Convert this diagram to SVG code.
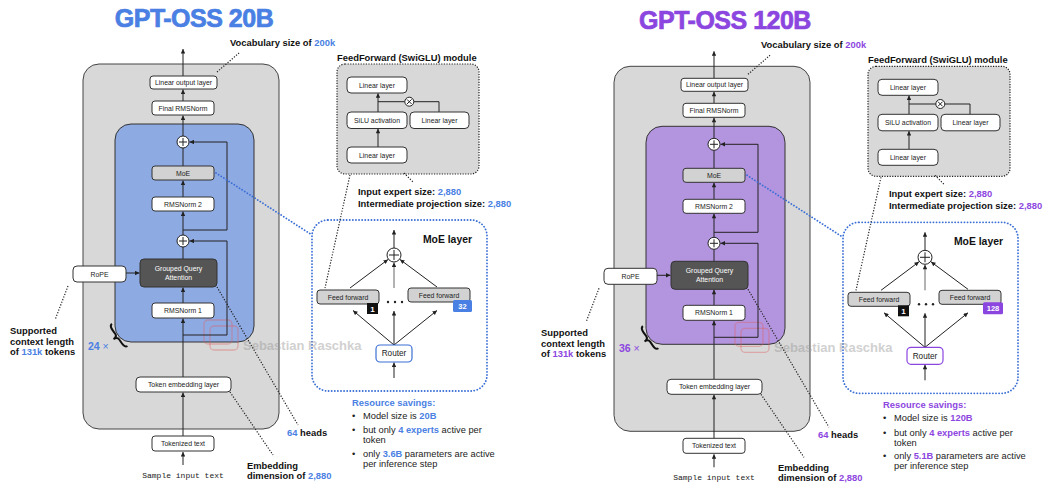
<svg xmlns="http://www.w3.org/2000/svg" width="1057" height="489" viewBox="0 0 1057 489">
<style>
text{font-family:"Liberation Sans",Arial,Helvetica,sans-serif}
.bg{fill:#fff}
.outer{fill:#d8d8d8;stroke:#444;stroke-width:1}
.blk-b{fill:#8eaae3;stroke:#333;stroke-width:1}
.blk-p{fill:#b394de;stroke:#333;stroke-width:1}
.box{fill:#fff;stroke:#333;stroke-width:1}
.gbox{fill:#d2d2d2;stroke:#333;stroke-width:1}
.dark{fill:#555;stroke:#333;stroke-width:1}
.ffmod{fill:#d8d8d8;stroke:#222;stroke-width:1.2;stroke-dasharray:1.2 1.4}
.moebox{fill:none;stroke:#3b6fd6;stroke-width:1.8;stroke-dasharray:0.1 3;stroke-linecap:round}
.lbl{font-size:6.9px;text-anchor:middle;fill:#222}
.wl{font-size:6.9px;text-anchor:middle;fill:#fff}
.ann{font-size:9.4px;font-weight:bold;fill:#111}
.reg{font-size:9.3px;fill:#222}
.ab{fill:#4a7fe3}
.ap{fill:#8c46e0}
.title{font-size:25px;font-weight:bold;letter-spacing:-0.5px;text-anchor:middle;stroke-width:0.7px}
.tb{fill:#4a7fe3;stroke:#4a7fe3}
.tp{fill:#8c46e0;stroke:#8c46e0}
.ln{stroke:#222;stroke-width:1;fill:none}
.gln{stroke:#666;stroke-width:1;fill:none}
.dot{stroke:#222;stroke-width:1.2;stroke-dasharray:1.2 1.6;fill:none}
.bdot{stroke:#3b6fd6;stroke-width:1.8;stroke-dasharray:0.1 3;stroke-linecap:round;fill:none}
.circ{fill:#fff;stroke:#222;stroke-width:1}
.wm{font-size:13px;font-weight:bold;fill:#999;opacity:0.45}
.logo{fill:none;stroke:#e06060;stroke-width:1.3;opacity:0.4}
.mono{font-family:"Liberation Mono","Courier New",monospace;font-size:8px;fill:#222;text-anchor:middle}
.brace{fill:none;stroke:#111;stroke-width:2}
</style>
<defs>
<marker id="ah" viewBox="0 0 10 10" refX="10" refY="5" markerWidth="5" markerHeight="4.5" markerUnits="userSpaceOnUse" orient="auto">
<path d="M0,0 L10,5 L0,10 z" fill="#222"/>
</marker>
</defs>
<rect class="bg" x="0" y="0" width="1057" height="489"/>

<!-- ================= LEFT PANEL: GPT-OSS 20B ================= -->
<g id="panel-20b">
<text x="194" y="27" class="title tb">GPT-OSS 20B</text>

<g id="l-outer"><rect class="outer" x="83" y="64" width="196" height="365" rx="16"/></g>
<g id="l-block"><rect class="blk-b" x="115" y="124" width="139" height="218" rx="16"/></g>
<g id="l-ffmodule"><rect class="ffmod" x="337" y="64" width="142" height="110" rx="8"/>
<text class="ann" x="337" y="60.5">FeedForward (SwiGLU) module</text></g>
<g id="l-moelayer"><rect class="moebox" x="312" y="220" width="175" height="171" rx="16"/>
<text x="472" y="243" text-anchor="end" font-size="10.4" font-weight="bold" fill="#111">MoE layer</text></g>

<g id="l-watermark">
<rect class="logo" x="204" y="320" width="28" height="24" rx="4"/>
<rect class="logo" x="210" y="326" width="28" height="24" rx="4"/>
<text class="wm" x="243" y="350">Sebastian Raschka</text>
</g>

<g id="l-connectors">
<line class="ln" x1="183" y1="76" x2="183" y2="49" marker-end="url(#ah)"/>
<line class="ln" x1="183" y1="101" x2="183" y2="89.5" marker-end="url(#ah)"/>
<line class="ln" x1="183" y1="136" x2="183" y2="115.5" marker-end="url(#ah)"/>
<line class="ln" x1="183" y1="166" x2="183" y2="148"/>
<line class="ln" x1="183" y1="197" x2="183" y2="180.5" marker-end="url(#ah)"/>
<line class="ln" x1="183" y1="235" x2="183" y2="211.5" marker-end="url(#ah)"/>
<line class="ln" x1="183" y1="259" x2="183" y2="247"/>
<line class="ln" x1="183" y1="303" x2="183" y2="287.5" marker-end="url(#ah)"/>
<line class="ln" x1="183" y1="377" x2="183" y2="318.5" marker-end="url(#ah)"/>
<line class="ln" x1="183" y1="436" x2="183" y2="392.5" marker-end="url(#ah)"/>
<line class="ln" x1="183" y1="465" x2="183" y2="452" marker-end="url(#ah)"/>
<polyline class="ln" points="183,230 227,230 227,142 189.5,142" marker-end="url(#ah)"/>
<polyline class="ln" points="183,335 227,335 227,241 189.5,241" marker-end="url(#ah)"/>
<line class="ln" x1="126" y1="273" x2="139.5" y2="273" marker-end="url(#ah)"/>
<line class="dot" x1="217" y1="72" x2="239" y2="53"/>
<line class="dot" x1="68" y1="286" x2="55" y2="320"/>
<line class="dot" x1="217" y1="287" x2="298" y2="425"/>
<line class="dot" x1="230" y1="392" x2="273" y2="455"/>
<line class="bdot" x1="216" y1="173" x2="312" y2="235"/>
<line class="dot" x1="350" y1="175" x2="325" y2="288"/>
<line class="dot" x1="404" y1="173" x2="413" y2="182"/>
<line class="ln" x1="378" y1="147" x2="378" y2="128.8" marker-end="url(#ah)"/>
<line class="ln" x1="378" y1="112" x2="378" y2="93.3" marker-end="url(#ah)"/>
<line class="ln" x1="378" y1="101.7" x2="404.8" y2="101.7"/>
<polyline class="ln" points="413.8,101.7 439,101.7 439,112"/>
<line class="ln" x1="394" y1="248" x2="394" y2="230" marker-end="url(#ah)"/>
<line class="ln" x1="350" y1="288" x2="388" y2="259.5" marker-end="url(#ah)"/>
<line class="ln" x1="437" y1="287" x2="400" y2="259.5" marker-end="url(#ah)"/>
<line class="gln" x1="394" y1="288" x2="394" y2="262.5" marker-end="url(#ah)"/>
<line class="ln" x1="394" y1="345" x2="353" y2="310.5" marker-end="url(#ah)"/>
<line class="ln" x1="394" y1="345" x2="394" y2="311" marker-end="url(#ah)"/>
<line class="ln" x1="394" y1="345" x2="437" y2="310.5" marker-end="url(#ah)"/>
<line class="ln" x1="394" y1="378" x2="394" y2="362.5" marker-end="url(#ah)"/>
</g>

<g id="l-linear-out"><rect class="box" x="150" y="76" width="67" height="13" rx="3"/><text class="lbl" x="183.5" y="85">Linear output layer</text></g>
<g id="l-final-norm"><rect class="box" x="152" y="101" width="62" height="14" rx="3"/><text class="lbl" x="183" y="110.5">Final RMSNorm</text></g>
<g id="l-add1"><circle class="circ" cx="183" cy="142" r="6"/><path class="ln" d="M179,142 H187 M183,138 V146"/></g>
<g id="l-moe"><rect class="gbox" x="152" y="166" width="62" height="14" rx="3"/><text class="lbl" x="183" y="175.5">MoE</text></g>
<g id="l-norm2"><rect class="box" x="152" y="197" width="62" height="14" rx="3"/><text class="lbl" x="183" y="206.5">RMSNorm 2</text></g>
<g id="l-add2"><circle class="circ" cx="183" cy="241" r="6"/><path class="ln" d="M179,241 H187 M183,237 V245"/></g>
<g id="l-gqa"><rect class="dark" x="140" y="259" width="77" height="28" rx="4"/><text class="wl" x="178.5" y="271">Grouped Query</text><text class="wl" x="178.5" y="280">Attention</text></g>
<g id="l-rope"><rect class="box" x="73" y="266" width="53" height="16" rx="4"/><text class="lbl" x="99.5" y="276.5">RoPE</text></g>
<g id="l-norm1"><rect class="box" x="152" y="303" width="62" height="15" rx="3"/><text class="lbl" x="183" y="312.8">RMSNorm 1</text></g>
<g id="l-embed"><rect class="box" x="136" y="377" width="95" height="15" rx="4"/><text class="lbl" x="183.5" y="387">Token embedding layer</text></g>
<g id="l-tok"><rect class="box" x="152" y="436" width="62" height="15" rx="3"/><text class="lbl" x="183" y="446">Tokenized text</text></g>
<g id="l-input"><text class="mono" x="183" y="478">Sample input text</text></g>

<g id="l-repeat">
<text x="88" y="350" font-size="10.5" class="ab"><tspan font-weight="bold">24</tspan> ×</text>
<path class="brace" transform="translate(116,337.5) rotate(-35)" d="M4.5,-13.5 C0.5,-13.5 1.5,-7 1.5,-3.5 C1.5,-1.2 0.5,0 -3,0 C0.5,0 1.5,1.2 1.5,3.5 C1.5,7 0.5,13.5 4.5,13.5"/>
</g>

<g id="l-ff-lin1"><rect class="box" x="347" y="77" width="60" height="16" rx="4"/><text class="lbl" x="377" y="87.5">Linear layer</text></g>
<g id="l-ff-silu"><rect class="box" x="347" y="112" width="60" height="16.5" rx="4"/><text class="lbl" x="377" y="122.7">SiLU activation</text></g>
<g id="l-ff-lin2"><rect class="box" x="410" y="112" width="59" height="16.5" rx="4"/><text class="lbl" x="439.5" y="122.7">Linear layer</text></g>
<g id="l-ff-lin3"><rect class="box" x="347" y="147" width="60" height="16" rx="4"/><text class="lbl" x="377" y="157.5">Linear layer</text></g>
<g id="l-ff-mul"><circle class="circ" cx="409.3" cy="101.7" r="4.5"/><path class="ln" d="M407,99.4 L411.6,104 M411.6,99.4 L407,104"/></g>

<g id="l-moe-add"><circle class="circ" cx="394" cy="255" r="7"/><path class="ln" stroke-width="1.3" d="M389,255 H399 M394,250 V260"/></g>
<g id="l-ff1"><rect class="gbox" x="317" y="290" width="62" height="14" rx="3"/><text class="lbl" x="348" y="299.5">Feed forward</text>
<rect x="367" y="303" width="11" height="11" fill="#111"/><text x="372.5" y="311.8" font-size="8" font-weight="bold" fill="#fff" text-anchor="middle">1</text></g>
<g id="l-ffn"><rect class="gbox" x="408" y="288" width="62" height="14" rx="3"/><text class="lbl" x="439" y="297.5">Feed forward</text>
<rect x="453" y="300" width="19" height="12" rx="1.5" class="ab"/><text x="462.5" y="308.8" font-size="7.5" font-weight="bold" fill="#fff" text-anchor="middle">32</text></g>
<g id="l-ellipsis"><circle cx="388" cy="302" r="1.2" fill="#222"/><circle cx="395" cy="302" r="1.2" fill="#222"/><circle cx="402" cy="302" r="1.2" fill="#222"/></g>
<g id="l-router"><rect x="376" y="345" width="36" height="17" rx="4" fill="#fff" stroke="#3b6fd6" stroke-width="1.2"/><text x="394" y="356.3" font-size="8.2" text-anchor="middle" fill="#222">Router</text></g>

<g id="l-annotations">
<text class="ann" x="230" y="46">Vocabulary size of <tspan class="ab">200k</tspan></text>
<text class="ann" x="10" y="334">Supported</text>
<text class="ann" x="10" y="344.5">context length</text>
<text class="ann" x="10" y="355">of <tspan class="ab">131k</tspan> tokens</text>
<text class="ann" x="287" y="436"><tspan class="ab">64</tspan> heads</text>
<text class="ann" x="247" y="468.5">Embedding</text>
<text class="ann" x="247" y="479">dimension of <tspan class="ab">2,880</tspan></text>
<text class="ann" x="358" y="195">Input expert size: <tspan class="ab">2,880</tspan></text>
<text class="ann" x="358" y="206.7">Intermediate projection size: <tspan class="ab">2,880</tspan></text>
<text class="ann ab" x="352" y="405.5">Resource savings:</text>
<text class="reg" x="352" y="419">•</text><text class="reg" x="363" y="419">Model size is <tspan class="ab" font-weight="bold">20B</tspan></text>
<text class="reg" x="352" y="433.3">•</text><text class="reg" x="363" y="433.3">but only <tspan class="ab" font-weight="bold">4 experts</tspan> active per</text>
<text class="reg" x="363" y="443.3">token</text>
<text class="reg" x="352" y="456.7">•</text><text class="reg" x="363" y="456.7">only <tspan class="ab" font-weight="bold">3.6B</tspan> parameters are active</text>
<text class="reg" x="363" y="466.7">per inference step</text>
</g>
</g>

<!-- ================= RIGHT PANEL: GPT-OSS 120B ================= -->
<g id="panel-120b" transform="translate(531,2.3)">
<text x="194" y="26.5" class="title tp">GPT-OSS 120B</text>

<g id="r-outer"><rect class="outer" x="83" y="64" width="196" height="365" rx="16"/></g>
<g id="r-block"><rect class="blk-p" x="115" y="124" width="139" height="218" rx="16"/></g>
<g id="r-ffmodule"><rect class="ffmod" x="337" y="64" width="142" height="110" rx="8"/>
<text class="ann" x="337" y="60.5">FeedForward (SwiGLU) module</text></g>
<g id="r-moelayer"><rect class="moebox" x="312" y="220" width="175" height="171" rx="16"/>
<text x="472" y="243" text-anchor="end" font-size="10.4" font-weight="bold" fill="#111">MoE layer</text></g>

<g id="r-watermark">
<rect class="logo" x="204" y="320" width="28" height="24" rx="4"/>
<rect class="logo" x="210" y="326" width="28" height="24" rx="4"/>
<text class="wm" x="243" y="350">Sebastian Raschka</text>
</g>

<g id="r-connectors">
<line class="ln" x1="183" y1="76" x2="183" y2="49" marker-end="url(#ah)"/>
<line class="ln" x1="183" y1="101" x2="183" y2="89.5" marker-end="url(#ah)"/>
<line class="ln" x1="183" y1="136" x2="183" y2="115.5" marker-end="url(#ah)"/>
<line class="ln" x1="183" y1="166" x2="183" y2="148"/>
<line class="ln" x1="183" y1="197" x2="183" y2="180.5" marker-end="url(#ah)"/>
<line class="ln" x1="183" y1="235" x2="183" y2="211.5" marker-end="url(#ah)"/>
<line class="ln" x1="183" y1="259" x2="183" y2="247"/>
<line class="ln" x1="183" y1="303" x2="183" y2="287.5" marker-end="url(#ah)"/>
<line class="ln" x1="183" y1="377" x2="183" y2="318.5" marker-end="url(#ah)"/>
<line class="ln" x1="183" y1="436" x2="183" y2="392.5" marker-end="url(#ah)"/>
<line class="ln" x1="183" y1="465" x2="183" y2="452" marker-end="url(#ah)"/>
<polyline class="ln" points="183,230 227,230 227,142 189.5,142" marker-end="url(#ah)"/>
<polyline class="ln" points="183,335 227,335 227,241 189.5,241" marker-end="url(#ah)"/>
<line class="ln" x1="126" y1="273" x2="139.5" y2="273" marker-end="url(#ah)"/>
<line class="dot" x1="217" y1="72" x2="239" y2="53"/>
<line class="dot" x1="68" y1="286" x2="55" y2="320"/>
<line class="dot" x1="217" y1="287" x2="298" y2="425"/>
<line class="dot" x1="230" y1="392" x2="273" y2="455"/>
<line class="bdot" x1="216" y1="173" x2="312" y2="235"/>
<line class="dot" x1="350" y1="175" x2="325" y2="288"/>
<line class="dot" x1="404" y1="173" x2="413" y2="182"/>
<line class="ln" x1="378" y1="147" x2="378" y2="128.8" marker-end="url(#ah)"/>
<line class="ln" x1="378" y1="112" x2="378" y2="93.3" marker-end="url(#ah)"/>
<line class="ln" x1="378" y1="101.7" x2="404.8" y2="101.7"/>
<polyline class="ln" points="413.8,101.7 439,101.7 439,112"/>
<line class="ln" x1="394" y1="248" x2="394" y2="230" marker-end="url(#ah)"/>
<line class="ln" x1="350" y1="288" x2="388" y2="259.5" marker-end="url(#ah)"/>
<line class="ln" x1="437" y1="287" x2="400" y2="259.5" marker-end="url(#ah)"/>
<line class="gln" x1="394" y1="288" x2="394" y2="262.5" marker-end="url(#ah)"/>
<line class="ln" x1="394" y1="345" x2="353" y2="310.5" marker-end="url(#ah)"/>
<line class="ln" x1="394" y1="345" x2="394" y2="311" marker-end="url(#ah)"/>
<line class="ln" x1="394" y1="345" x2="437" y2="310.5" marker-end="url(#ah)"/>
<line class="ln" x1="394" y1="378" x2="394" y2="362.5" marker-end="url(#ah)"/>
</g>

<g id="r-linear-out"><rect class="box" x="150" y="76" width="67" height="13" rx="3"/><text class="lbl" x="183.5" y="85">Linear output layer</text></g>
<g id="r-final-norm"><rect class="box" x="152" y="101" width="62" height="14" rx="3"/><text class="lbl" x="183" y="110.5">Final RMSNorm</text></g>
<g id="r-add1"><circle class="circ" cx="183" cy="142" r="6"/><path class="ln" d="M179,142 H187 M183,138 V146"/></g>
<g id="r-moe"><rect class="gbox" x="152" y="166" width="62" height="14" rx="3"/><text class="lbl" x="183" y="175.5">MoE</text></g>
<g id="r-norm2"><rect class="box" x="152" y="197" width="62" height="14" rx="3"/><text class="lbl" x="183" y="206.5">RMSNorm 2</text></g>
<g id="r-add2"><circle class="circ" cx="183" cy="241" r="6"/><path class="ln" d="M179,241 H187 M183,237 V245"/></g>
<g id="r-gqa"><rect class="dark" x="140" y="259" width="77" height="28" rx="4"/><text class="wl" x="178.5" y="271">Grouped Query</text><text class="wl" x="178.5" y="280">Attention</text></g>
<g id="r-rope"><rect class="box" x="73" y="266" width="53" height="16" rx="4"/><text class="lbl" x="99.5" y="276.5">RoPE</text></g>
<g id="r-norm1"><rect class="box" x="152" y="303" width="62" height="15" rx="3"/><text class="lbl" x="183" y="312.8">RMSNorm 1</text></g>
<g id="r-embed"><rect class="box" x="136" y="377" width="95" height="15" rx="4"/><text class="lbl" x="183.5" y="387">Token embedding layer</text></g>
<g id="r-tok"><rect class="box" x="152" y="436" width="62" height="15" rx="3"/><text class="lbl" x="183" y="446">Tokenized text</text></g>
<g id="r-input"><text class="mono" x="183" y="478">Sample input text</text></g>

<g id="r-repeat">
<text x="88" y="350" font-size="10.5" class="ap"><tspan font-weight="bold">36</tspan> ×</text>
<path class="brace" transform="translate(116,337.5) rotate(-35)" d="M4.5,-13.5 C0.5,-13.5 1.5,-7 1.5,-3.5 C1.5,-1.2 0.5,0 -3,0 C0.5,0 1.5,1.2 1.5,3.5 C1.5,7 0.5,13.5 4.5,13.5"/>
</g>

<g id="r-ff-lin1"><rect class="box" x="347" y="77" width="60" height="16" rx="4"/><text class="lbl" x="377" y="87.5">Linear layer</text></g>
<g id="r-ff-silu"><rect class="box" x="347" y="112" width="60" height="16.5" rx="4"/><text class="lbl" x="377" y="122.7">SiLU activation</text></g>
<g id="r-ff-lin2"><rect class="box" x="410" y="112" width="59" height="16.5" rx="4"/><text class="lbl" x="439.5" y="122.7">Linear layer</text></g>
<g id="r-ff-lin3"><rect class="box" x="347" y="147" width="60" height="16" rx="4"/><text class="lbl" x="377" y="157.5">Linear layer</text></g>
<g id="r-ff-mul"><circle class="circ" cx="409.3" cy="101.7" r="4.5"/><path class="ln" d="M407,99.4 L411.6,104 M411.6,99.4 L407,104"/></g>

<g id="r-moe-add"><circle class="circ" cx="394" cy="255" r="7"/><path class="ln" stroke-width="1.3" d="M389,255 H399 M394,250 V260"/></g>
<g id="r-ff1"><rect class="gbox" x="317" y="290" width="62" height="14" rx="3"/><text class="lbl" x="348" y="299.5">Feed forward</text>
<rect x="367" y="303" width="11" height="11" fill="#111"/><text x="372.5" y="311.8" font-size="8" font-weight="bold" fill="#fff" text-anchor="middle">1</text></g>
<g id="r-ffn"><rect class="gbox" x="408" y="288" width="62" height="14" rx="3"/><text class="lbl" x="439" y="297.5">Feed forward</text>
<rect x="452" y="300" width="20" height="12" rx="1.5" class="ap"/><text x="462" y="308.8" font-size="7.5" font-weight="bold" fill="#fff" text-anchor="middle">128</text></g>
<g id="r-ellipsis"><circle cx="388" cy="302" r="1.2" fill="#222"/><circle cx="395" cy="302" r="1.2" fill="#222"/><circle cx="402" cy="302" r="1.2" fill="#222"/></g>
<g id="r-router"><rect x="376" y="345" width="36" height="17" rx="4" fill="#fff" stroke="#8c46e0" stroke-width="1.2"/><text x="394" y="356.3" font-size="8.2" text-anchor="middle" fill="#222">Router</text></g>

<g id="r-annotations">
<text class="ann" x="230" y="46">Vocabulary size of <tspan class="ap">200k</tspan></text>
<text class="ann" x="10" y="334">Supported</text>
<text class="ann" x="10" y="344.5">context length</text>
<text class="ann" x="10" y="355">of <tspan class="ap">131k</tspan> tokens</text>
<text class="ann" x="287" y="436"><tspan class="ap">64</tspan> heads</text>
<text class="ann" x="247" y="468.5">Embedding</text>
<text class="ann" x="247" y="479">dimension of <tspan class="ap">2,880</tspan></text>
<text class="ann" x="358" y="195">Input expert size: <tspan class="ap">2,880</tspan></text>
<text class="ann" x="358" y="206.7">Intermediate projection size: <tspan class="ap">2,880</tspan></text>
<text class="ann ap" x="352" y="405.5">Resource savings:</text>
<text class="reg" x="352" y="419">•</text><text class="reg" x="363" y="419">Model size is <tspan class="ap" font-weight="bold">120B</tspan></text>
<text class="reg" x="352" y="433.3">•</text><text class="reg" x="363" y="433.3">but only <tspan class="ap" font-weight="bold">4 experts</tspan> active per</text>
<text class="reg" x="363" y="443.3">token</text>
<text class="reg" x="352" y="456.7">•</text><text class="reg" x="363" y="456.7">only <tspan class="ap" font-weight="bold">5.1B</tspan> parameters are active</text>
<text class="reg" x="363" y="466.7">per inference step</text>
</g>
</g>
</svg>
